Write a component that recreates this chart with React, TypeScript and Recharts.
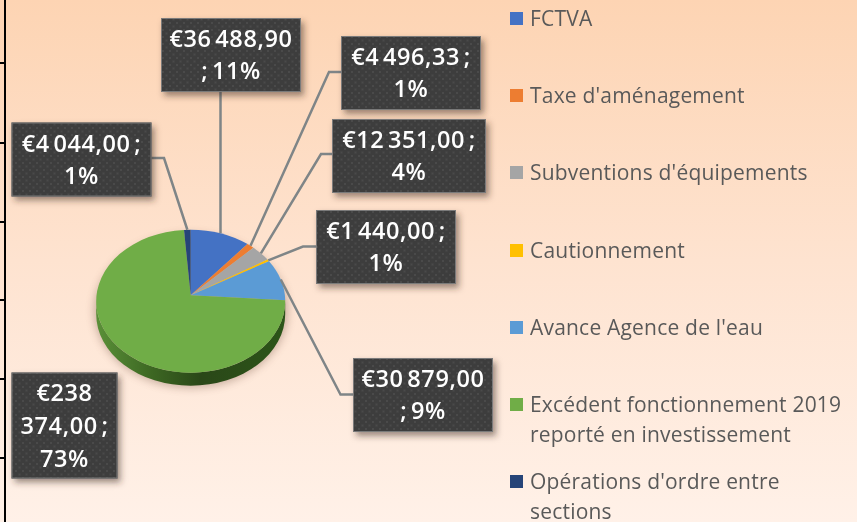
import React from 'react'
import { PieChart, Pie, Legend } from 'recharts'

const categories = [
  'FCTVA',
  "Taxe d'aménagement",
  "Subventions d'équipements",
  'Cautionnement',
  "Avance Agence de l'eau",
  'Excédent fonctionnement 2019\nreporté en investissement',
  "Opérations d'ordre entre\nsections",
]
const amounts = [36488.9, 4496.33, 12351, 1440, 30879, 238374, 4044]
const colors = ['#4472C4', '#ED7D31', '#A5A5A5', '#FFC000', '#5B9BD5', '#70AD47', '#264478']
const labelLines = [
  ['€36 488,90', '; 11%'],
  ['€4 496,33 ;', '1%'],
  ['€12 351,00 ;', '4%'],
  ['€1 440,00 ;', '1%'],
  ['€30 879,00', '; 9%'],
  ['€238', '374,00 ;', '73%'],
  ['€4 044,00 ;', '1%'],
]

// label box placement, same order as the categories
const labelBoxes = [
  { x: 161, y: 18, w: 140, h: 74, anchor: [220.5, 92] },
  { x: 341, y: 36, w: 140, h: 74, anchor: [341, 72], elbow: [329, 72] },
  { x: 332, y: 119, w: 154, h: 74, anchor: [332, 154], elbow: [321, 154] },
  { x: 316, y: 210, w: 140, h: 74, anchor: [316, 246.5], elbow: [303, 246.5] },
  { x: 353, y: 358, w: 140, h: 74, anchor: [353, 394.5], elbow: [340.5, 394.5] },
  { x: 11.5, y: 372.5, w: 106, h: 106 },
  { x: 11.5, y: 122.5, w: 140, h: 74, anchor: [151, 158], elbow: [164, 158] },
]
const legendCenters = [18, 95, 172, 250, 327, 404, 481]
const frameTicks = [63, 143, 222, 300, 379, 458]

const data = categories.map((name, i) => ({ name, value: amounts[i], fill: colors[i] }))

const RY = 71.5
const DEPTH = 13
const APEX_LIFT = 6 // the slices meet above the ellipse centre (perspective)
const FONT = '"Open Sans", sans-serif'

// where a ray from the apex hits the ellipse, as a parametric ellipse angle in radians
function edgeAngle(deg: number) {
  const a = (deg * Math.PI) / 180
  const v0 = APEX_LIFT / RY
  const dx = Math.cos(a)
  const dy = Math.sin(a)
  const t = -v0 * dy + Math.sqrt(v0 * v0 * dy * dy - v0 * v0 + 1)
  const theta = Math.atan2(v0 + t * dy, t * dx)
  // keep the same turn as the input so that sweeps stay monotonic
  return theta + Math.round((a - theta) / (2 * Math.PI)) * 2 * Math.PI
}

function PieSlice(props: any) {
  const { cx, cy, outerRadius: rx, startAngle, endAngle, fill } = props
  const t1 = edgeAngle(startAngle)
  const t2 = edgeAngle(endAngle)
  const px = (t: number) => cx + rx * Math.cos(t)
  const py = (t: number) => cy - RY * Math.sin(t)
  const large = Math.abs(t1 - t2) > Math.PI ? 1 : 0
  const top = `M${cx},${cy - APEX_LIFT} L${px(t1)},${py(t1)} A${rx},${RY} 0 ${large} 1 ${px(t2)},${py(t2)} Z`

  // side wall, only where the rim faces the viewer
  const from = Math.min(t1, 0)
  const to = Math.max(t2, -Math.PI)
  let wall = null
  if (from > to) {
    wall = (
      <path
        d={`M${px(from)},${py(from)} A${rx},${RY} 0 0 1 ${px(to)},${py(to)} L${px(to)},${py(to) + DEPTH} A${rx},${RY} 0 0 0 ${px(from)},${py(from) + DEPTH} Z`}
        fill="url(#wallGrad)"
      />
    )
  }
  return (
    <g>
      {wall}
      <path d={top} fill={fill} />
    </g>
  )
}

function BoxLabel(props: any) {
  const { index, cx, cy, outerRadius: rx, midAngle } = props
  const box = labelBoxes[index]
  const lines = labelLines[index]
  const t = edgeAngle(midAngle)
  const end = [cx + rx * Math.cos(t), cy - RY * Math.sin(t)]
  const pts = box.anchor ? [box.anchor, box.elbow, end].filter(Boolean) : null
  const lineGap = lines.length > 2 ? 33 : 32
  const midY = box.y + box.h / 2
  return (
    <g>
      {pts && (
        <polyline
          points={pts.map((p: any) => p.join(',')).join(' ')}
          fill="none"
          stroke="#7F8587"
          strokeWidth={2.5}
        />
      )}
      <rect x={box.x} y={box.y} width={box.w} height={box.h} fill="#3E3E3E" filter="url(#boxShadow)" />
      <rect
        x={box.x + 0.5}
        y={box.y + 0.5}
        width={box.w - 1}
        height={box.h - 1}
        fill="url(#dots)"
        stroke="#7A7A7A"
        strokeWidth={1}
      />
      {lines.map((line: string, i: number) => (
        <text
          key={i}
          x={box.x + box.w / 2}
          y={midY + (i - (lines.length - 1) / 2) * lineGap}
          dy="0.36em"
          textAnchor="middle"
          fill="#FFFFFF"
          fontFamily={FONT}
          fontWeight={600}
          fontSize={23.5}
          letterSpacing={0.6}
          wordSpacing={-3}
        >
          {line}
        </text>
      ))}
    </g>
  )
}

function SideLegend({ payload }: any) {
  return (
    <div style={{ position: 'relative', width: 857, height: 522, fontFamily: FONT }}>
      {(payload || []).map((item: any, i: number) => (
        <React.Fragment key={i}>
          <div
            style={{
              position: 'absolute',
              left: 510,
              top: legendCenters[i] - 6.5,
              width: 13,
              height: 13,
              background: item.color,
            }}
          />
          <div
            style={{
              position: 'absolute',
              left: 530,
              top: legendCenters[i] - 15,
              fontSize: 21,
              letterSpacing: 0.2,
              lineHeight: '30px',
              color: '#595959',
              whiteSpace: 'pre',
            }}
          >
            {item.value}
          </div>
        </React.Fragment>
      ))}
    </div>
  )
}

export default function App() {
  return (
    <div
      style={{
        position: 'absolute',
        left: 0,
        top: 0,
        width: 857,
        height: 522,
        overflow: 'hidden',
        background: 'linear-gradient(180deg, #FDD4B3 0%, #FEE3D0 50%, #FFF1E8 100%)',
      }}
    >
      <div style={{ filter: 'blur(0.4px)' }}>
        <PieChart width={857} height={522} margin={{ top: 0, right: 0, bottom: 0, left: 0 }}>
          <defs>
            <linearGradient id="wallGrad" gradientUnits="userSpaceOnUse" x1="96" y1="0" x2="286" y2="0">
              <stop offset="0%" stopColor="#5A9038" />
              <stop offset="30%" stopColor="#3C6622" />
              <stop offset="55%" stopColor="#2A4718" />
              <stop offset="100%" stopColor="#2C5519" />
            </linearGradient>
            <pattern id="dots" width="7" height="7" patternUnits="userSpaceOnUse">
              <rect x="1" y="1" width="2" height="2" fill="#4A4A4A" />
              <rect x="4.5" y="4.5" width="2" height="2" fill="#4A4A4A" />
            </pattern>
            <filter id="boxShadow" x="-15%" y="-15%" width="130%" height="140%">
              <feDropShadow dx="3" dy="4" stdDeviation="3" floodColor="#3A2A20" floodOpacity="0.5" />
            </filter>
            <filter id="pieShadow" x="-20%" y="-20%" width="140%" height="140%">
              <feGaussianBlur stdDeviation="4" />
            </filter>
          </defs>

          {/* remains of the table behind the chart */}
          <rect x={4} y={0} width={2} height={522} fill="#000000" />
          {frameTicks.map((y) => (
            <rect key={y} x={0} y={y - 1} width={5} height={2} fill="#000000" />
          ))}
          <ellipse cx={191} cy={311} rx={97} ry={77} fill="#7A5A48" opacity={0.4} filter="url(#pieShadow)" />

          <Pie
            data={data}
            dataKey="value"
            nameKey="name"
            cx={190.7}
            cy={301.2}
            outerRadius={94.5}
            startAngle={90}
            endAngle={-270}
            stroke="none"
            shape={PieSlice}
            label={BoxLabel}
            labelLine={false}
            isAnimationActive={false}
          />
          <Legend
            content={<SideLegend />}
            itemSorter={null}
            wrapperStyle={{ position: 'absolute', left: 0, top: 0, width: 857, height: 522 }}
          />
        </PieChart>
      </div>
    </div>
  )
}
